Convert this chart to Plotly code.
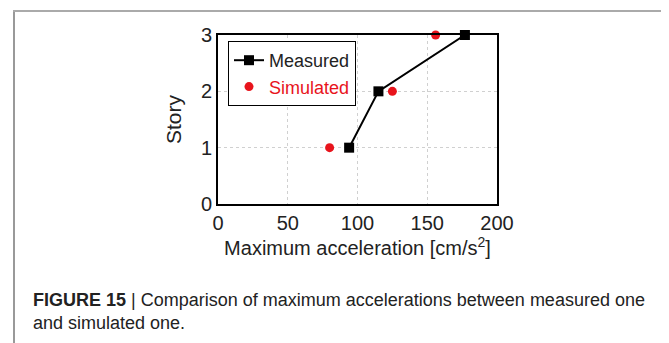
import plotly.graph_objects as go

measured_x = [94, 115, 177]
measured_story = [1, 2, 3]
simulated_x = [80, 125, 156]
simulated_story = [1, 2, 3]

x_ticks = [0, 50, 100, 150, 200]
y_ticks = [0, 1, 2, 3]

OFF = 8  # browser body margin
W, H = 669 - OFF, 343 - OFF
L, R, T, B = 218, 497, 35, 204  # reference page pixels of plot area
pw, ph = R - L, B - T

def px(x):
    return (x - L) / pw

def py(y):
    return (B - y) / ph

FONT = "Liberation Sans"
TXT = "#222222"

fig = go.Figure()
fig.add_trace(go.Scatter(
    x=measured_x, y=measured_story, mode="lines+markers", name="Measured",
    line=dict(color="black", width=2),
    marker=dict(symbol="square", size=10, color="black"),
    cliponaxis=False,
))
fig.add_trace(go.Scatter(
    x=simulated_x, y=simulated_story, mode="markers",
    name='<span style="color:#e8141c">Simulated</span>',
    marker=dict(symbol="circle", size=9, color="#e8141c"),
    cliponaxis=False,
))

fig.update_layout(
    width=W, height=H,
    margin=dict(l=L - OFF, r=669 - R, t=T - OFF, b=343 - B, pad=0),
    paper_bgcolor="white", plot_bgcolor="white",
    font=dict(family=FONT, color=TXT, size=17),
    showlegend=True,
    legend=dict(
        x=px(228), y=py(41), xanchor="left", yanchor="top",
        bordercolor="black", borderwidth=1, bgcolor="white",
        font=dict(size=18, color=TXT, family=FONT),
        itemwidth=30, tracegroupgap=0,
    ),
    xaxis=dict(
        range=[0, 200], tickvals=x_ticks, ticks="",
        showgrid=True, gridcolor="#d0d0d0", griddash="dot", gridwidth=1,
        showline=True, linecolor="black", linewidth=2, mirror=True,
        zeroline=False, tickfont=dict(size=20, family=FONT, color=TXT),
        title=dict(text="Maximum acceleration [cm/s<sup>2</sup>]",
                   font=dict(size=20, family=FONT, color=TXT), standoff=6),
    ),
    yaxis=dict(
        range=[0, 3], tickvals=y_ticks, ticks="",
        showgrid=True, gridcolor="#d0d0d0", griddash="dot", gridwidth=1,
        showline=True, linecolor="black", linewidth=2, mirror=True,
        zeroline=False, tickfont=dict(size=20, family=FONT, color=TXT),
        title=dict(text="Story", font=dict(size=21, family=FONT, color=TXT), standoff=14),
    ),
)

# outer frame
fig.add_shape(type="line", xref="paper", yref="paper",
              x0=px(14), x1=px(14), y0=py(11), y1=py(350),
              line=dict(color="#999999", width=2))
fig.add_shape(type="line", xref="paper", yref="paper",
              x0=px(13), x1=px(665), y0=py(11), y1=py(11),
              line=dict(color="#aaaaaa", width=2))
fig.add_shape(type="line", xref="paper", yref="paper",
              x0=px(665), x1=px(665), y0=py(11), y1=py(350),
              line=dict(color="#999999", width=1))

fig.add_annotation(
    xref="paper", yref="paper", x=px(31), y=py(311), xanchor="left", yanchor="middle",
    text="<b>FIGURE 15</b> | Comparison of maximum accelerations between measured one<br>and simulated one.",
    showarrow=False, align="left",
    font=dict(size=18, family=FONT, color=TXT),
)

fig.write_html("out.html")
